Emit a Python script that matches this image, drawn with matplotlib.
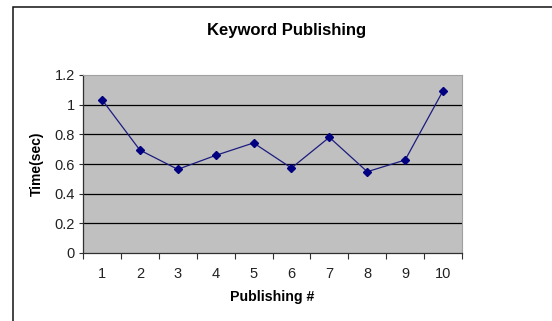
import matplotlib.pyplot as plt
from matplotlib.patches import Rectangle
from matplotlib.ticker import FixedLocator, NullFormatter

plt.rcParams['font.family'] = ['Liberation Sans', 'DejaVu Sans']

publishing = [1, 2, 3, 4, 5, 6, 7, 8, 9, 10]
times = [1.034, 0.694, 0.564, 0.658, 0.742, 0.573, 0.780, 0.548, 0.627, 1.094]
yticks = [0, 0.2, 0.4, 0.6, 0.8, 1, 1.2]
ytick_labels = ['0', '0.2', '0.4', '0.6', '0.8', '1', '1.2']

fig = plt.figure(figsize=(5.52, 3.21), dpi=100)
fig.patch.set_facecolor('white')

# chart frame (clipped at right/bottom as in the picture)
fig.patches.append(Rectangle((13 / 552, -0.1), 1.2, 1.1 - 7 / 321,
                             transform=fig.transFigure, fill=False,
                             edgecolor='#111111', linewidth=1.1))

ax = fig.add_axes([83 / 552, 68 / 321, 379 / 552, 178 / 321])
ax.set_facecolor('#c0c0c0')

ax.plot(publishing, times, color='#1c1c80', linewidth=0.9,
        marker='D', markersize=4, markerfacecolor='#000080',
        markeredgecolor='#000080', zorder=3)

ax.set_xlim(0.5, 10.5)
ax.set_ylim(0, 1.2)

ax.set_yticks(yticks)
ax.set_yticklabels(ytick_labels, fontsize=10.5, color='#222222')
for y in yticks[1:-1]:
    ax.axhline(y, color='black', linewidth=0.9, zorder=1)

ax.set_xticks(publishing)
ax.set_xticklabels([str(p) for p in publishing], fontsize=10.5, color='#222222')
ax.tick_params(axis='x', which='major', length=0, pad=10)
ax.xaxis.set_minor_locator(FixedLocator([p + 0.5 for p in [0] + publishing]))
ax.xaxis.set_minor_formatter(NullFormatter())
ax.tick_params(axis='x', which='minor', length=4, width=0.8, direction='out',
               color='#303030')
ax.tick_params(axis='y', length=3, width=0.8, direction='out', color='#303030',
               pad=3)

for side in ['left', 'bottom']:
    ax.spines[side].set_color('#303030')
    ax.spines[side].set_linewidth(0.9)
for side in ['top', 'right']:
    ax.spines[side].set_color('#a0a0a0')
    ax.spines[side].set_linewidth(0.8)

ax.set_xlabel('Publishing #', fontsize=10.2, fontweight='bold', va='center')
ax.xaxis.set_label_coords((272 - 83) / 379, (253 - 297) / 178)
ax.set_ylabel('Time(sec)', fontsize=10, fontweight='bold', va='center')
ax.yaxis.set_label_coords((37 - 83) / 379, 0.5)
fig.text(287 / 552, 1 - 30 / 321, 'Keyword Publishing', fontsize=12,
         fontweight='bold', ha='center', va='center')

fig.savefig('out.png', dpi=100)
